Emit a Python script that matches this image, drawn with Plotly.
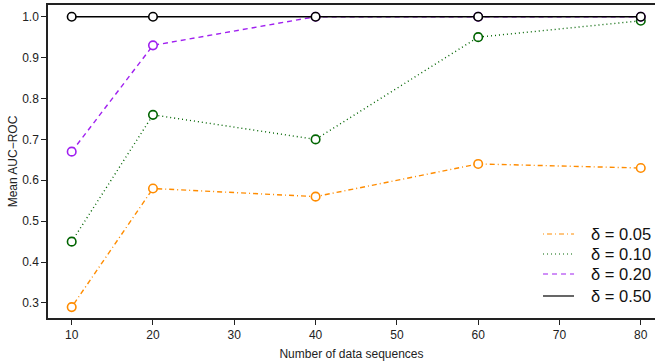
import plotly.graph_objects as go

# Mean AUC-ROC against number of data sequences, one series per delta
n_sequences = [10, 20, 40, 60, 80]
auc_d005 = [0.29, 0.58, 0.56, 0.64, 0.63]
auc_d010 = [0.45, 0.76, 0.70, 0.95, 0.99]
auc_d020 = [0.67, 0.93, 1.00, 1.00, 1.00]
auc_d050 = [1.00, 1.00, 1.00, 1.00, 1.00]
legend_labels = ["δ = 0.05", "δ = 0.10", "δ = 0.20", "δ = 0.50"]

series = [
    (legend_labels[0], auc_d005, "#FF8C00", "1px,3px,5px,3px"),
    (legend_labels[1], auc_d010, "#006400", "1px,3px"),
    (legend_labels[2], auc_d020, "#A020F0", "5px,4px"),
    (legend_labels[3], auc_d050, "#000000", "solid"),
]

fig = go.Figure()
for name, vals, color, dash in series:
    fig.add_trace(go.Scatter(
        x=n_sequences, y=vals, mode="lines+markers", name=name, showlegend=False,
        line=dict(color=color, width=1.4, dash=dash),
        marker=dict(symbol="circle", size=8.5, color="white",
                    line=dict(color=color, width=1.6)),
    ))

# Compact legend box in the lower right: line sample + label per series
legend_font = dict(family="Liberation Sans, Arial, sans-serif", size=16.5, color="#111")
row_y = [0.2684, 0.2045, 0.1406, 0.0703]
for (name, vals, color, dash), yy in zip(series, row_y):
    fig.add_shape(type="line", xref="paper", yref="paper",
                  x0=0.8155, x1=0.8666, y0=yy, y1=yy,
                  line=dict(color=color, width=1.2, dash=dash))
    fig.add_annotation(xref="paper", yref="paper", x=0.8913, y=yy,
                       xanchor="left", yanchor="middle", text=name,
                       showarrow=False, font=legend_font)

axis_font = dict(family="Liberation Sans, Arial, sans-serif", size=12, color="#222")
fig.update_layout(
    width=655, height=363,
    margin=dict(l=48, r=0, t=5, b=45),
    plot_bgcolor="white", paper_bgcolor="white",
    font=axis_font,
    showlegend=False,
    xaxis=dict(
        range=[7.085, 81.75], tickvals=[10, 20, 30, 40, 50, 60, 70, 80],
        showgrid=False, zeroline=False, showline=True, linecolor="#222",
        linewidth=1.5, mirror=True, ticks="outside", ticklen=5, tickwidth=1,
        tickcolor="#222",
        title=dict(text="Number of data sequences", font=axis_font, standoff=8),
    ),
    yaxis=dict(
        range=[0.2633, 1.0286], tickvals=[0.3, 0.4, 0.5, 0.6, 0.7, 0.8, 0.9, 1.0],
        tickformat=".1f",
        showgrid=False, zeroline=False, showline=True, linecolor="#222",
        linewidth=1.5, ticks="outside", ticklen=5, tickwidth=1, tickcolor="#222",
        title=dict(text="Mean AUC−ROC", font=axis_font, standoff=2),
    ),
)

fig.write_html("out.html")
